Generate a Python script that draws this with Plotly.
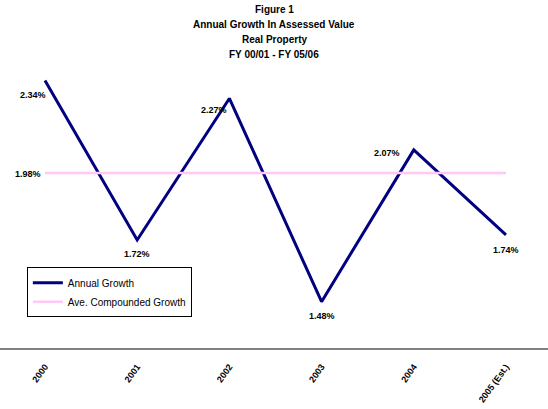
import plotly.graph_objects as go

years = ["2000", "2001", "2002", "2003", "2004", "2005 (Est.)"]
growth = [2.34, 1.72, 2.27, 1.48, 2.07, 1.74]
avg_growth = [1.98] * 6
growth_labels = ["2.34%", "1.72%", "2.27%", "1.48%", "2.07%", "1.74%"]
avg_label = "1.98%"
title_lines = ["Figure 1", "Annual Growth In Assessed Value", "Real Property", "FY 00/01 - FY 05/06"]

xs = list(range(len(years)))

fig = go.Figure()
fig.add_trace(go.Scatter(x=xs, y=growth, mode="lines", name="Annual Growth",
                         line=dict(color="#000080", width=3)))
fig.add_trace(go.Scatter(x=xs, y=avg_growth, mode="lines", name="Ave. Compounded Growth",
                         line=dict(color="#FFC8F8", width=2.5)))

offsets = [(-12, -15), (0, -14), (-15, -12), (0, -14), (-27, -3), (0, -15)]
for i, (lab, (dx, dy)) in enumerate(zip(growth_labels, offsets)):
    fig.add_annotation(x=xs[i], y=growth[i], text="<b>" + lab + "</b>", showarrow=False,
                       xshift=dx, yshift=dy,
                       font=dict(family="Arial", size=9, color="black"))
fig.add_annotation(x=xs[0], y=avg_growth[0], text="<b>" + avg_label + "</b>", showarrow=False,
                   xshift=-17, yshift=-1,
                   font=dict(family="Arial", size=9, color="black"))

for k, line in enumerate(title_lines):
    fig.add_annotation(xref="paper", yref="paper", x=0.5, y=1.0, yshift=65 - 9 - 15.3 * k,
                       yanchor="middle", showarrow=False,
                       text="<b>" + line + "</b>",
                       font=dict(family="Arial", size=10, color="black"))

fig.update_layout(
    width=548, height=409,
    margin=dict(l=0, r=0, t=65, b=61, autoexpand=False),
    paper_bgcolor="white", plot_bgcolor="white",
    showlegend=True,
    legend=dict(x=0.049, y=0.285, xanchor="left", yanchor="top",
                bordercolor="black", borderwidth=1, bgcolor="white",
                font=dict(family="Arial", size=10, color="black"),
                tracegroupgap=0, itemwidth=30),
    xaxis=dict(range=[-0.488, 5.456], tickvals=xs, ticktext=["<b>" + y + "</b>" for y in years],
               tickangle=-54, showgrid=False, zeroline=False, automargin=False,
               showline=True, linecolor="#808080", linewidth=2,
               ticks="outside", ticklen=8, tickcolor="rgba(0,0,0,0)",
               tickfont=dict(family="Arial", size=9, color="black")),
    yaxis=dict(range=[1.3, 2.4], visible=False, showgrid=False, zeroline=False, automargin=False),
)

fig.write_html("out.html", config={"displayModeBar": False},
               post_script="document.body.style.margin='0';document.body.style.padding='0';")
